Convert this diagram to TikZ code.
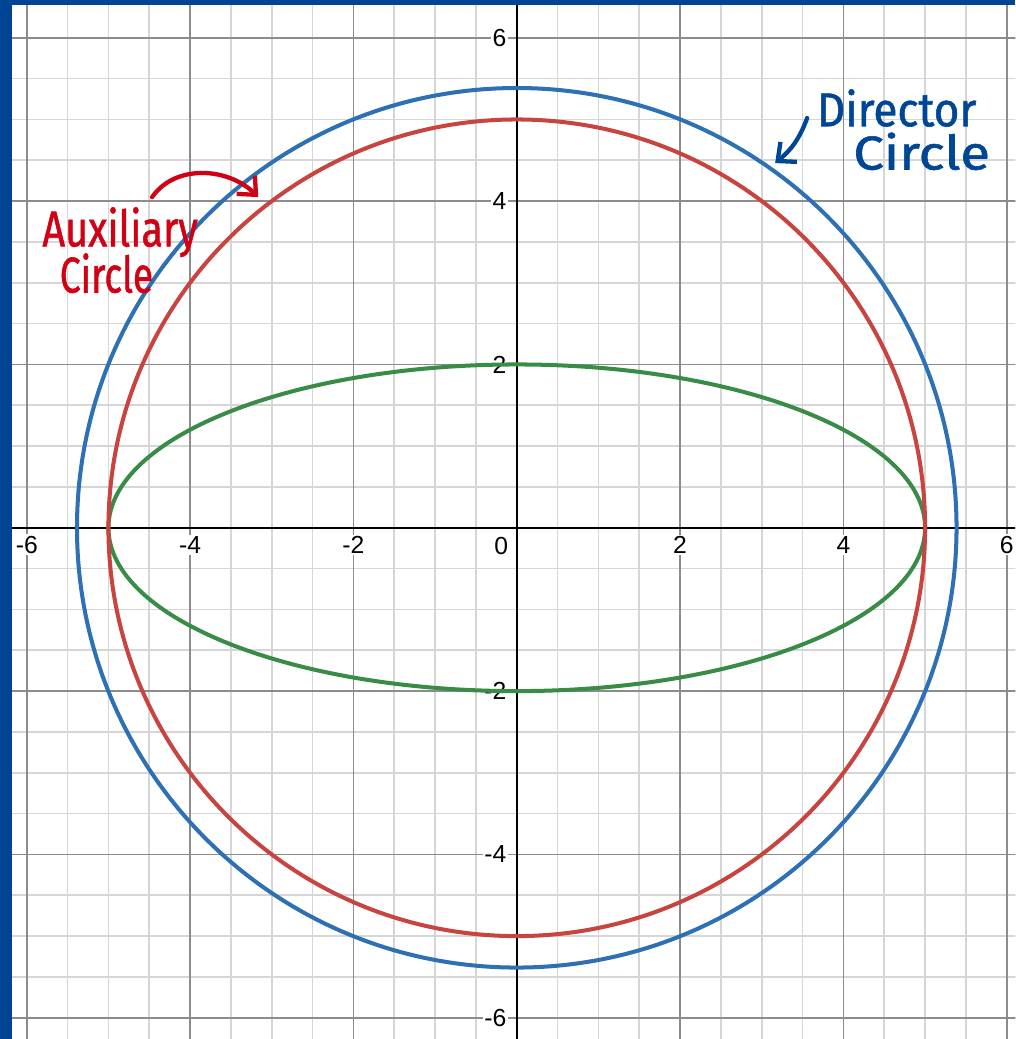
\documentclass[tikz,border=0pt]{standalone}
\usepackage{fontspec}
\setmainfont{Liberation Sans}
\newfontfamily\handfont[FakeBold=1.2]{Fira Sans}
\usetikzlibrary{arrows.meta}
\definecolor{desblue}{HTML}{2D70B3}
\definecolor{desred}{HTML}{C74440}
\definecolor{desgreen}{HTML}{388C46}
\definecolor{frameblue}{RGB}{0,68,148}
\definecolor{penred}{RGB}{210,0,20}
\definecolor{penblue}{RGB}{0,70,150}
\begin{document}
\begin{tikzpicture}[curve/.style={line width=1.4pt},
  ticklabel/.style={font=\fontsize{8.6}{10}\selectfont, inner sep=0.6pt, fill=white},
  pen/.style={font=\handfont\fontsize{17.5}{20}\selectfont, inner sep=0pt},
  penarrow/.style={line width=1.5pt, line cap=round, line join=round, -{Straight Barb[length=5pt,width=9pt]}}]
\fill[frameblue] (-6.328,-6.26) rectangle (6.106,6.463);
\fill[white] (-6.18,-6.26) rectangle (6.106,6.40);
\useasboundingbox (-6.328,-6.26) rectangle (6.106,6.463);
\begin{scope}
\clip (-6.18,-6.26) rectangle (6.106,6.40);
\draw[black!16, line width=0.6pt] (-6.5,-6.5) grid[step=0.5] (6.5,6.5);
\draw[black!45, line width=0.6pt] (-6.5,-6.5) grid[step=2] (6.5,6.5);
\draw[line width=0.75pt] (-6.18,0) -- (6.106,0);
\draw[line width=0.75pt] (0,-6.26) -- (0,6.40);
\foreach \x in {-6,-4,-2,2,4,6}
  \node[ticklabel] (xl\x) at (\x,-0.21) {\x};
\foreach \y in {-6,-4,-2,2,4,6}
  \node[ticklabel, anchor=east] (yl\y) at (-0.1,\y) {\y};
\node[ticklabel] (zero) at (-0.19,-0.22) {0};
\draw[curve, desgreen] (0,0) ellipse (5 and 2);
\draw[curve, desred] (0,0) circle (5);
\draw[curve, desblue] (0,0) circle ({sqrt(29)});
\end{scope}
\node[pen, penred, xscale=0.79] (aux) at (-4.857,3.62) {Auxiliary};
\node[pen, penred, xscale=0.74] (auxcircle) at (-5.024,3.117) {Circle};
\node[pen, penblue, font=\handfont\fontsize{16.5}{19}\selectfont, xscale=0.93] (director) at (4.652,5.14) {Director};
\node[pen, penblue, font=\handfont\fontsize{16.5}{19}\selectfont, xscale=1.15] (dircircle) at (4.958,4.61) {Circle};
\coordinate (auxtail) at (-4.466,4.049);
\coordinate (auxtip) at (-3.166,4.049);
\coordinate (dirtail) at (3.556,5.017);
\coordinate (dirtip) at (3.164,4.466);
\draw[penarrow, penred] (auxtail) to[out=55,in=135] (auxtip);
\draw[penarrow, penblue] (dirtail) to[bend left=15] (dirtip);
\end{tikzpicture}
\end{document}
